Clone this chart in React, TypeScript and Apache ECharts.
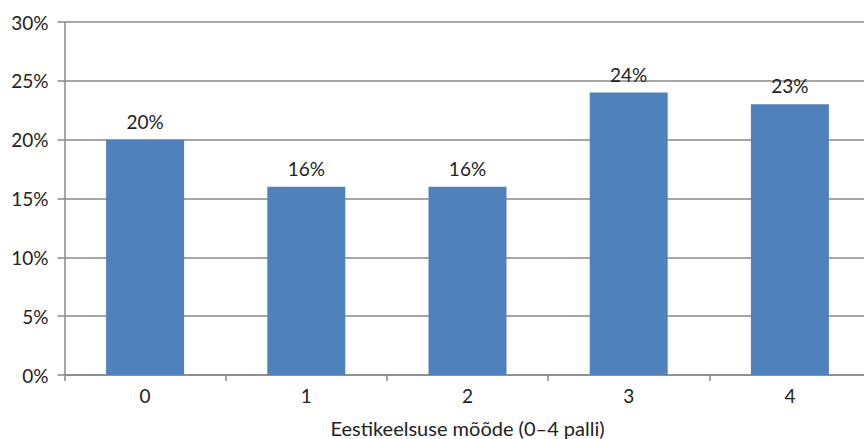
import React, { useEffect, useRef } from "react";
import * as echarts from "echarts";

const categories = ["0", "1", "2", "3", "4"];
const values = [20, 16, 16, 24, 23];
const yTicks = [0, 5, 10, 15, 20, 25, 30];
const xAxisTitle = "Eestikeelsuse mõõde (0–4 palli)";

export default function App() {
  const ref = useRef<HTMLDivElement>(null);
  useEffect(() => {
    if (!ref.current) return;
    const chart = echarts.init(ref.current, null, { renderer: "svg" });
    const font = "Lato, 'Open Sans', sans-serif";
    chart.setOption({
      animation: false,
      grid: {
        left: 64.5,
        top: 22,
        width: 806,
        height: 353,
        containLabel: false,
        outerBoundsMode: "none",
      },
      xAxis: {
        type: "category",
        data: categories,
        name: xAxisTitle,
        nameLocation: "middle",
        nameGap: 43,
        nameTextStyle: { fontFamily: font, fontSize: 20, color: "#222" },
        axisLine: { lineStyle: { color: "#888", width: 1.5 } },
        axisTick: { show: true, length: 6, lineStyle: { color: "#888", width: 1.5 } },
        axisLabel: { fontFamily: font, fontSize: 19, color: "#222", margin: 11 },
      },
      yAxis: {
        type: "value",
        min: yTicks[0],
        max: yTicks[yTicks.length - 1],
        interval: 5,
        axisLine: { show: true, lineStyle: { color: "#888", width: 1.5 } },
        axisTick: { show: true, length: 7, lineStyle: { color: "#888", width: 1.5 } },
        splitLine: { lineStyle: { color: "#888", width: 1.5 } },
        axisLabel: {
          fontFamily: font,
          fontSize: 19,
          color: "#222",
          margin: 16,
          formatter: (v: number) => `${v}%`,
        },
      },
      series: [
        {
          type: "bar",
          data: values,
          barWidth: 78,
          itemStyle: { color: "#4F81BD" },
          label: {
            show: true,
            position: "top",
            distance: 9,
            fontFamily: font,
            fontSize: 19,
            color: "#222",
            formatter: (p: any) => `${p.value}%`,
          },
        },
      ],
    });
    return () => chart.dispose();
  }, []);
  return (
    <div
      ref={ref}
      style={{ position: "fixed", left: 0, top: 0, width: 864, height: 439, background: "#fff" }}
    />
  );
}
